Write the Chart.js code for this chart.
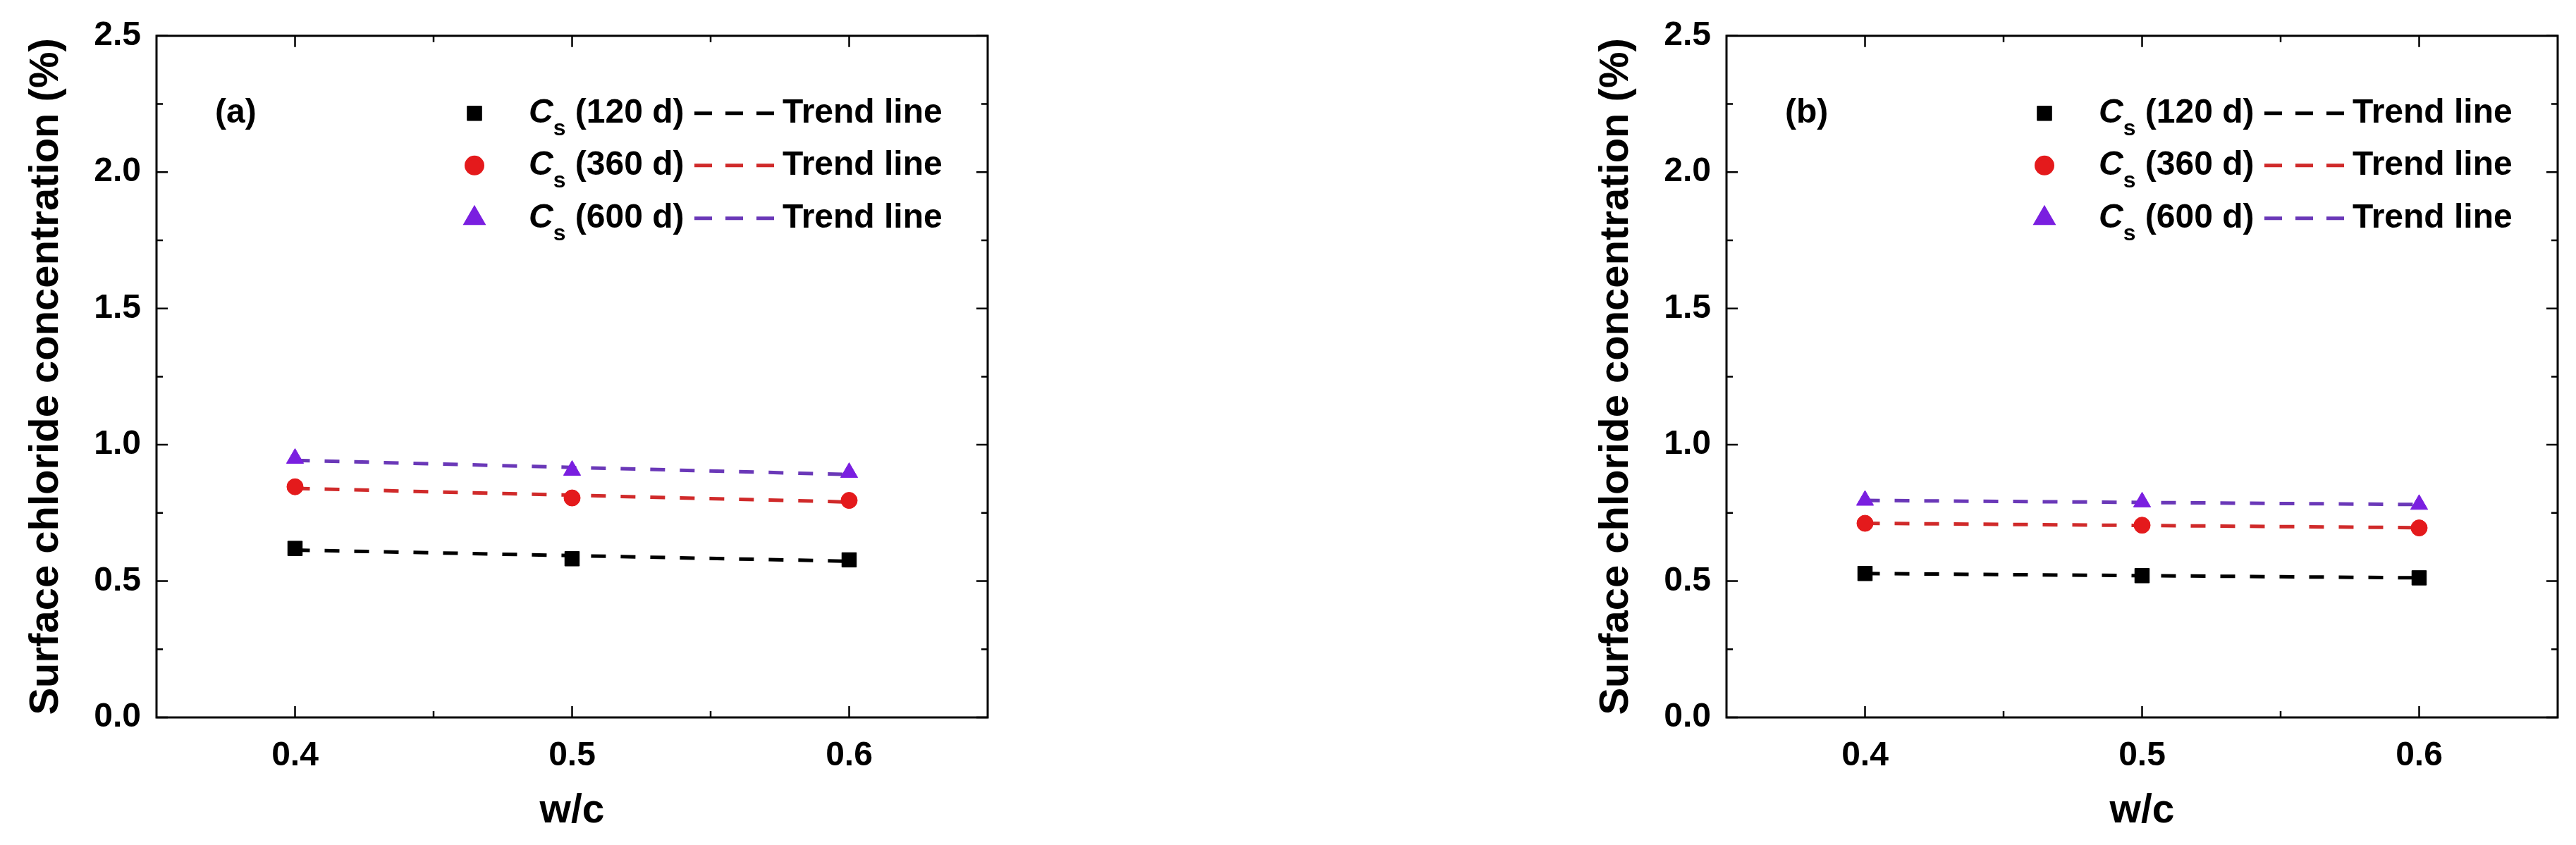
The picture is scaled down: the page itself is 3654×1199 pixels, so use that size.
<!DOCTYPE html>
<html>
<head>
<meta charset="utf-8">
<script src="https://cdn.jsdelivr.net/npm/chart.js@4.4.0/dist/chart.umd.min.js"></script>
<style>
    html, body { margin: 0; padding: 0; background: #fff; overflow: hidden; width: 3654px; height: 1199px; }
    .panel { position: absolute; top: 0; width: 1427px; height: 1199px; }
</style>
</head>
<body>
<div class="panel" style="left:0"><canvas id="chartA" width="1427" height="1199"></canvas></div>
<div class="panel" style="left:2227px"><canvas id="chartB" width="1427" height="1199"></canvas></div>
<script>
// w/c ratios and curing ages
const wcValues = [0.4, 0.5, 0.6];
const trendX = [0.4, 0.6];
const ageLabels = ['120 d', '360 d', '600 d'];

// panel (a) surface chloride concentration (%)
const csA120 = [0.620, 0.582, 0.578];
const csA360 = [0.846, 0.805, 0.796];
const csA600 = [0.950, 0.906, 0.898];
const trendA120 = [0.614, 0.573];
const trendA360 = [0.840, 0.790];
const trendA600 = [0.943, 0.891];

// panel (b)
const csB120 = [0.528, 0.520, 0.512];
const csB360 = [0.712, 0.705, 0.695];
const csB600 = [0.796, 0.790, 0.781];
const trendB120 = [0.528, 0.512];
const trendB360 = [0.712, 0.696];
const trendB600 = [0.796, 0.781];

// axis ticks
const xTicks = [0.4, 0.5, 0.6];
const xMinor = [0.45, 0.55];
const yTicks = [0, 0.5, 1.0, 1.5, 2.0, 2.5];
const yMinor = [0.25, 0.75, 1.25, 1.75, 2.25];

const FONT = '"Liberation Sans", Arial, sans-serif';

const seriesStyle = [
    { marker: '#000000', line: '#000000', pointStyle: 'rect', radius: 14.5 },
    { marker: '#e41a1c', line: '#d02a2a', pointStyle: 'circle', radius: 11.5 },
    { marker: '#7a1fe0', line: '#6a38b8', pointStyle: 'triangle', radius: 14 }
];

// frame with inward major/minor ticks on all four sides
const framePlugin = {
    id: 'frame',
    afterDatasetsDraw(chart) {
        const { ctx, chartArea: a, scales } = chart;
        const x = scales.x, y = scales.y;
        ctx.save();
        ctx.strokeStyle = '#000';
        ctx.lineWidth = 3;
        ctx.strokeRect(a.left, a.top, a.right - a.left, a.bottom - a.top);
        ctx.lineWidth = 2.5;
        const tick = (vals, len) => {
            vals.forEach(v => {
                const px = x.getPixelForValue(v);
                ctx.beginPath();
                ctx.moveTo(px, a.bottom); ctx.lineTo(px, a.bottom - len);
                ctx.moveTo(px, a.top); ctx.lineTo(px, a.top + len);
                ctx.stroke();
            });
        };
        const ytick = (vals, len) => {
            vals.forEach(v => {
                const py = y.getPixelForValue(v);
                ctx.beginPath();
                ctx.moveTo(a.left, py); ctx.lineTo(a.left + len, py);
                ctx.moveTo(a.right, py); ctx.lineTo(a.right - len, py);
                ctx.stroke();
            });
        };
        tick(xTicks, 16); tick(xMinor, 9);
        ytick(yTicks, 16); ytick(yMinor, 9);
        ctx.restore();
    }
};

// panel letter and legend with italic C and subscript s
const legendPlugin = {
    id: 'csLegend',
    afterDraw(chart, args, opts) {
        const { ctx, chartArea: a } = chart;
        ctx.save();
        ctx.fillStyle = '#000';
        ctx.textBaseline = 'middle';
        ctx.textAlign = 'left';
        ctx.font = 'bold 48px ' + FONT;
        ctx.fillText(opts.panel, a.left + 83, a.top + 110);

        const rowsY = [110, 184, 259];
        ageLabels.forEach((age, i) => {
            const st = seriesStyle[i];
            const cy = a.top + rowsY[i];
            ctx.fillStyle = st.marker;
            ctx.strokeStyle = st.marker;
            Chart.helpers.drawPoint(ctx, {
                pointStyle: st.pointStyle, radius: st.radius, borderWidth: 1, rotation: 0
            }, a.left + 451, cy);

            ctx.fillStyle = '#000';
            let tx = a.left + 528;
            ctx.font = 'italic bold 48px ' + FONT;
            ctx.fillText('C', tx, cy);
            tx += ctx.measureText('C').width;
            ctx.font = 'bold 32px ' + FONT;
            ctx.fillText('s', tx, cy + 22);
            tx += ctx.measureText('s').width;
            ctx.font = 'bold 48px ' + FONT;
            ctx.fillText(' (' + age + ')', tx, cy);

            ctx.strokeStyle = st.line;
            ctx.lineWidth = 5;
            ctx.setLineDash([25, 19]);
            ctx.beginPath();
            ctx.moveTo(a.left + 763, cy);
            ctx.lineTo(a.left + 876, cy);
            ctx.stroke();
            ctx.setLineDash([]);
            ctx.fillText('Trend line', a.left + 888, cy);
        });
        ctx.restore();
    }
};

function makeChart(id, panel, cs, trends) {
    const datasets = [];
    cs.forEach((vals, i) => {
        const st = seriesStyle[i];
        datasets.push({
            label: 'Cs (' + ageLabels[i] + ')',
            data: wcValues.map((w, k) => ({ x: w, y: vals[k] })),
            showLine: false,
            pointStyle: st.pointStyle,
            pointRadius: st.radius,
            backgroundColor: st.marker,
            borderColor: st.marker,
            borderWidth: 1
        });
    });
    trends.forEach((vals, i) => {
        const st = seriesStyle[i];
        datasets.push({
            label: 'Trend line',
            data: trendX.map((w, k) => ({ x: w, y: vals[k] })),
            showLine: true,
            pointRadius: 0,
            borderColor: st.line,
            borderWidth: 5,
            borderDash: [21, 21]
        });
    });

    return new Chart(document.getElementById(id), {
        type: 'scatter',
        data: { datasets: datasets },
        options: {
            responsive: false,
            animation: false,
            layout: { padding: { top: 47, right: 26, left: 0, bottom: 0 } },
            plugins: {
                legend: { display: false },
                tooltip: { enabled: false },
                csLegend: { panel: panel }
            },
            scales: {
                x: {
                    type: 'linear',
                    min: 0.35,
                    max: 0.65,
                    afterBuildTicks: (s) => { s.ticks = xTicks.map(v => ({ value: v })); },
                    afterFit: (s) => { s.height = 181; },
                    grid: { display: false, drawTicks: false },
                    border: { display: false },
                    ticks: {
                        color: '#000',
                        padding: 26,
                        font: { family: FONT, size: 48, weight: 'bold' },
                        callback: (v) => Number(v).toFixed(1)
                    },
                    title: {
                        display: true,
                        text: 'w/c',
                        color: '#000',
                        font: { family: FONT, size: 57, weight: 'bold' },
                        padding: { top: 0, bottom: 14 }
                    }
                },
                y: {
                    min: 0,
                    max: 2.5,
                    afterBuildTicks: (s) => { s.ticks = yTicks.map(v => ({ value: v })); },
                    afterFit: (s) => { s.width = 222; },
                    grid: { display: false, drawTicks: false },
                    border: { display: false },
                    ticks: {
                        color: '#000',
                        padding: 22,
                        font: { family: FONT, size: 48, weight: 'bold' },
                        callback: (v) => Number(v).toFixed(1)
                    },
                    title: {
                        display: true,
                        text: 'Surface chloride concentration (%)',
                        color: '#000',
                        font: { family: FONT, size: 58, weight: 'bold' },
                        padding: { top: 31, bottom: 0 }
                    }
                }
            }
        },
        plugins: [framePlugin, legendPlugin]
    });
}

makeChart('chartA', '(a)', [csA120, csA360, csA600], [trendA120, trendA360, trendA600]);
makeChart('chartB', '(b)', [csB120, csB360, csB600], [trendB120, trendB360, trendB600]);
</script>
</body>
</html>
